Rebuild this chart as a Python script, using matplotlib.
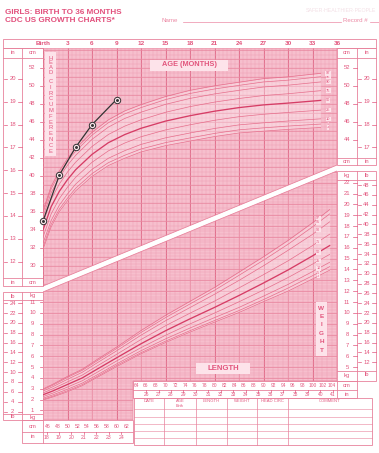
import matplotlib
matplotlib.use('Agg')
import matplotlib.pyplot as plt
import matplotlib.transforms as mtransforms
from matplotlib.patches import Polygon, Rectangle
import numpy as np

plt.rcParams['font.family'] = ['Liberation Sans', 'DejaVu Sans']

# ---------------- data ----------------
age_ticks = [0, 3, 6, 9, 12, 15, 18, 21, 24, 27, 30, 33, 36]
age_tick_labels = ['Birth', '3', '6', '9', '12', '15', '18', '21', '24', '27', '30', '33', '36']
percentiles = ['3', '5', '10', '25', '50', '75', '90', '95', '97']

hc_age = [0, 1, 2, 3, 4, 6, 8, 10, 12, 15, 18, 21, 24, 27, 30, 34]
hc_p3 = [31.84, 34.34, 36.04, 37.25, 38.35, 39.95, 41.16, 41.97, 42.67, 43.37, 43.88, 44.38, 44.78, 44.98, 45.18, 45.39]
hc_p5 = [32.11, 34.63, 36.33, 37.54, 38.64, 40.26, 41.48, 42.30, 43.00, 43.71, 44.23, 44.73, 45.13, 45.35, 45.55, 45.77]
hc_p10 = [32.53, 35.06, 36.76, 38.00, 39.10, 40.73, 41.97, 42.81, 43.51, 44.24, 44.78, 45.28, 45.68, 45.91, 46.11, 46.35]
hc_p25 = [33.22, 35.79, 37.49, 38.76, 39.86, 41.52, 42.79, 43.66, 44.36, 45.12, 45.69, 46.19, 46.59, 46.86, 47.06, 47.32]
hc_p50 = [34.00, 36.60, 38.30, 39.60, 40.70, 42.40, 43.70, 44.60, 45.30, 46.10, 46.70, 47.20, 47.60, 47.90, 48.10, 48.40]
hc_p75 = [34.78, 37.41, 39.11, 40.44, 41.54, 43.28, 44.61, 45.54, 46.24, 47.08, 47.71, 48.21, 48.61, 48.94, 49.14, 49.48]
hc_p90 = [35.47, 38.14, 39.84, 41.20, 42.30, 44.07, 45.43, 46.39, 47.09, 47.96, 48.62, 49.12, 49.52, 49.89, 50.09, 50.45]
hc_p95 = [35.89, 38.57, 40.27, 41.66, 42.76, 44.54, 45.92, 46.90, 47.60, 48.49, 49.17, 49.67, 50.07, 50.45, 50.65, 51.03]
hc_p97 = [36.16, 38.86, 40.56, 41.95, 43.05, 44.85, 46.24, 47.23, 47.93, 48.83, 49.52, 50.02, 50.42, 50.82, 51.02, 51.41]
hc_curves = [hc_p3, hc_p5, hc_p10, hc_p25, hc_p50, hc_p75, hc_p90, hc_p95, hc_p97]

patient_age = [0, 2, 4, 6, 9]
patient_hc = [35.0, 40.1, 43.2, 45.7, 48.5]

wl_len = [45, 47, 50, 53, 56, 60, 65, 70, 75, 80, 85, 90, 95, 100, 103.5]
wl_p3 = [1.96, 2.24, 2.72, 3.28, 4.03, 5.03, 6.22, 7.26, 8.22, 9.14, 10.03, 11.03, 12.00, 13.12, 13.93]
wl_p5 = [2.03, 2.32, 2.82, 3.38, 4.13, 5.15, 6.33, 7.39, 8.36, 9.29, 10.21, 11.22, 12.28, 13.42, 14.26]
wl_p10 = [2.13, 2.44, 2.96, 3.52, 4.27, 5.29, 6.51, 7.60, 8.60, 9.56, 10.50, 11.54, 12.62, 13.80, 14.66]
wl_p25 = [2.28, 2.60, 3.16, 3.74, 4.51, 5.56, 6.79, 7.93, 8.98, 9.98, 11.02, 12.11, 13.25, 14.49, 15.39]
wl_p50 = [2.45, 2.80, 3.40, 4.00, 4.80, 5.85, 7.15, 8.35, 9.45, 10.50, 11.60, 12.75, 13.95, 15.25, 16.20]
wl_p75 = [2.62, 3.00, 3.64, 4.26, 5.09, 6.17, 7.54, 8.81, 9.97, 11.08, 12.30, 13.52, 14.79, 16.20, 17.25]
wl_p90 = [2.79, 3.19, 3.88, 4.52, 5.38, 6.49, 7.94, 9.27, 10.49, 11.71, 12.99, 14.34, 15.76, 17.23, 18.39]
wl_p95 = [2.92, 3.33, 4.05, 4.70, 5.57, 6.70, 8.19, 9.56, 10.82, 12.08, 13.46, 14.85, 16.32, 17.92, 19.12]
wl_p97 = [2.99, 3.42, 4.15, 4.80, 5.69, 6.84, 8.37, 9.77, 11.06, 12.34, 13.75, 15.17, 16.67, 18.30, 19.52]
wl_curves = [wl_p3, wl_p5, wl_p10, wl_p25, wl_p50, wl_p75, wl_p90, wl_p95, wl_p97]

hc_cm_left = list(range(30, 53, 2))
hc_in_left = list(range(12, 21))
hc_cm_right = list(range(44, 53, 2))
hc_in_right = list(range(17, 21))
wt_kg_left = list(range(1, 12))
wt_lb_left = list(range(2, 25, 2))
wt_kg_right = list(range(5, 23))
wt_lb_right = list(range(12, 49, 2))
len_cm_low = list(range(46, 63, 2))
len_in_low = list(range(18, 25))
len_cm_high = list(range(64, 105, 2))
len_in_high = list(range(26, 42))
table_headers = ['DATE', 'AGE', 'LENGTH', 'WEIGHT', 'HEAD CIRC', 'COMMENT']

# ---------------- style ----------------
PINK = '#f6bfcd'
MINOR = '#ee9db2'
MED = '#e8849d'
MAJOR = '#df6886'
TXT = '#e2557d'
FRAME = '#e8829c'
CURVE = '#e66d8b'
CURVE50 = '#d63d66'
LIGHTBOX = '#fde3ea'
FS = 4.2

W, H = 379, 453
fig = plt.figure(figsize=(W / 100, H / 100), dpi=100)
fig.patch.set_facecolor('white')
page = fig.add_axes([0, 0, 1, 1], zorder=0)
page.set_xlim(0, W)
page.set_ylim(H, 0)
page.axis('off')

GX0, GX1, GY0, GY1 = 43, 337, 48, 420
pos = [GX0 / W, 1 - GY1 / H, (GX1 - GX0) / W, (GY1 - GY0) / H]


def cm_at(py):
    return 52 - (py - 68) / 9.0


def kg_at(py):
    return 1 + (410.5 - py) / 10.85


def frac(px, py):
    return ((px - GX0) / (GX1 - GX0), (GY1 - py) / (GY1 - GY0))


ax_hc = fig.add_axes(pos, zorder=1)
ax_hc.set_xlim(0, 36)
ax_hc.set_ylim(cm_at(GY1), cm_at(GY0))
ax_wt = fig.add_axes(pos, zorder=2)
ax_wt.set_xlim(45, 105)
ax_wt.set_ylim(kg_at(GY1), kg_at(GY0))
for a in (ax_hc, ax_wt):
    a.axis('off')

top = fig.add_axes([0, 0, 1, 1], zorder=5)
top.set_xlim(0, W)
top.set_ylim(H, 0)
top.axis('off')

# ---------- grid regions ----------
up = Polygon([frac(43, 48), frac(337, 48), frac(337, 165), frac(43, 286)], closed=True,
             transform=ax_hc.transAxes, fc=PINK, ec=FRAME, lw=0.6, zorder=0)
ax_hc.add_patch(up)
lo = Polygon([frac(43, 292), frac(337, 171), frac(337, 381), frac(133, 381), frac(133, 420), frac(43, 420)],
             closed=True, transform=ax_wt.transAxes, fc=PINK, ec=FRAME, lw=0.6, zorder=0)
ax_wt.add_patch(lo)

y0, y1 = ax_hc.get_ylim()
for xs, c, lw in [(np.arange(0, 36.01, 0.5), MINOR, 0.3), (np.arange(0, 36.01, 3), MAJOR, 0.6)]:
    ax_hc.vlines(xs, y0, y1, colors=c, lw=lw, zorder=1).set_clip_path(up)
for ys, c, lw in [(np.arange(13, 55, 0.5), MINOR, 0.3), (np.arange(13, 55, 1), MED, 0.45)]:
    ax_hc.hlines(ys, 0, 36, colors=c, lw=lw, zorder=1).set_clip_path(up)

ky0, ky1 = ax_wt.get_ylim()
for xs, c, lw in [(np.arange(45, 105.1, 1), MINOR, 0.3), (np.arange(45, 105.1, 5), MED, 0.45),
                  (np.arange(50, 105.1, 10), MAJOR, 0.6)]:
    ax_wt.vlines(xs, ky0, ky1, colors=c, lw=lw, zorder=1).set_clip_path(lo)
for ys, c, lw in [(np.arange(0, 35, 0.25), MINOR, 0.3), (np.arange(0, 35, 1), MED, 0.5)]:
    ax_wt.hlines(ys, 45, 105, colors=c, lw=lw, zorder=1).set_clip_path(lo)

# ---------- percentile curves ----------
ax_hc.fill_between(hc_age, hc_p3, hc_p97, color='white', alpha=0.3, lw=0, zorder=2)
for name, cur in zip(percentiles, hc_curves):
    ax_hc.plot(hc_age, cur, color=CURVE50 if name == '50' else CURVE,
               lw=0.95 if name == '50' else 0.5, zorder=3)
    ax_hc.text(34.9, cur[-1], name, fontsize=2.9, color=TXT, ha='center', va='center', zorder=4,
               bbox=dict(boxstyle='square,pad=0.08', fc=LIGHTBOX, ec='none'))

ax_wt.fill_between(wl_len, wl_p3, wl_p97, color='white', alpha=0.3, lw=0, zorder=2)
for name, cur in zip(percentiles, wl_curves):
    ax_wt.plot(wl_len, cur, color=CURVE50 if name == '50' else CURVE,
               lw=0.95 if name == '50' else 0.5, zorder=3)
    ax_wt.text(101.2, np.interp(101.2, wl_len, cur), name, fontsize=2.7, color=TXT, ha='center',
               va='center', zorder=4, bbox=dict(boxstyle='square,pad=0.06', fc=LIGHTBOX, ec='none'))

# patient measurements
ax_hc.plot(patient_age, patient_hc, color='#333333', lw=0.9, marker='o', ms=4.6,
           mfc='#fbe6ec', mec='#333333', mew=0.7, zorder=6, clip_on=False)
ax_hc.plot(patient_age, patient_hc, ls='none', marker='o', ms=1.1, color='#333333', zorder=7, clip_on=False)

# ---------- frames ----------
def hl(y, xa, xb, lw=0.6):
    page.plot([xa, xb], [y, y], color=FRAME, lw=lw)


def vl(x, ya, yb, lw=0.6):
    page.plot([x, x], [ya, yb], color=FRAME, lw=lw)


def box(xa, ya, xb, yb, lw=0.6):
    page.add_patch(Rectangle((xa, ya), xb - xa, yb - ya, fill=False, ec=FRAME, lw=lw))


box(3, 39, 376, 48)
box(3, 48, 43, 286); vl(22, 48, 286); hl(57.5, 3, 43); hl(277.5, 3, 43)
box(3, 292, 43, 420); vl(22, 292, 420); hl(300, 3, 43); hl(413.5, 3, 43)
box(337, 48, 376, 165); vl(357, 48, 165); hl(57.5, 337, 376); hl(157.5, 337, 376)
box(337, 171, 376, 381); vl(357, 171, 381); hl(179.5, 337, 376); hl(370.5, 337, 376)
box(22, 420, 133, 443); hl(431.5, 22, 133); vl(43, 420, 443)
box(133, 381, 357, 398); hl(390, 133, 357); vl(337, 381, 398)
box(134, 398, 372, 445)
for x in [164, 196, 227, 257, 288]:
    vl(x, 398, 445, lw=0.5)
for y in [409, 416.5, 423.5, 430.5, 437.5]:
    hl(y, 134, 372, lw=0.4)
for x, t in zip([149, 180, 211.5, 242, 272.5, 330], table_headers):
    page.text(x, 401.5, t, fontsize=3.0, color=TXT, ha='center', va='center')
page.text(180, 406, 'Birth', fontsize=2.8, color=TXT, ha='center', va='center')

# ---------- header / footer labels ----------
def lab(x, y, s, fs=FS, **kw):
    page.text(x, y, s, fontsize=fs, color=TXT, ha='center', va='center', **kw)


for (x, s) in [(12.5, 'in'), (32.5, 'cm')]:
    lab(x, 53, s); lab(x, 282, s)
for (x, s) in [(12.5, 'lb'), (32.5, 'kg')]:
    lab(x, 296, s); lab(x, 417, s)
for (x, s) in [(347, 'cm'), (366.5, 'in')]:
    lab(x, 53, s); lab(x, 161.5, s)
for (x, s) in [(347, 'kg'), (366.5, 'lb')]:
    lab(x, 175.5, s); lab(x, 375, s)
lab(32.5, 426, 'cm'); lab(32.5, 437, 'in')
lab(347, 385.5, 'cm'); lab(347, 394.2, 'in')

# ---------- axis tick labels ----------
bt_cm = mtransforms.blended_transform_factory(page.transData, ax_hc.transData)
bt_in = mtransforms.blended_transform_factory(
    page.transData, mtransforms.Affine2D().scale(1, 2.54) + ax_hc.transData)
bt_kg = mtransforms.blended_transform_factory(page.transData, ax_wt.transData)
bt_lb = mtransforms.blended_transform_factory(
    page.transData, mtransforms.Affine2D().scale(1, 0.45359) + ax_wt.transData)
bt_age = mtransforms.blended_transform_factory(ax_hc.transData, page.transData)
bt_len = mtransforms.blended_transform_factory(ax_wt.transData, page.transData)
bt_lin = mtransforms.blended_transform_factory(
    mtransforms.Affine2D().scale(2.54, 1) + ax_wt.transData, page.transData)


def column(values, trans, xc, ticks):
    for v in values:
        page.text(xc, v, str(v), transform=trans, fontsize=FS, color=TXT, ha='center', va='center')
        for xa, xb in ticks:
            page.plot([xa, xb], [v, v], transform=trans, color=TXT, lw=0.5)


column(hc_cm_left, bt_cm, 32.5, [(39.5, 43)])
column(hc_in_left, bt_in, 12.5, [(4, 7), (18, 21.5)])
column(hc_cm_right, bt_cm, 347, [(353, 357)])
column(hc_in_right, bt_in, 366.5, [(358, 361), (372, 375.5)])
column(wt_kg_left, bt_kg, 32.5, [(39.5, 43)])
column(wt_lb_left, bt_lb, 12.5, [(4, 7), (18, 21.5)])
column(wt_kg_right, bt_kg, 347, [(353, 357)])
column(wt_lb_right, bt_lb, 366.5, [(358, 361), (372, 375.5)])

for a, t in zip(age_ticks, age_tick_labels):
    page.text(a, 43.5, t, transform=bt_age, fontsize=4.6, color=TXT, ha='center', va='center',
              fontweight='bold')
for v in len_cm_low:
    page.text(v, 426, str(v), transform=bt_len, fontsize=3.7, color=TXT, ha='center', va='center')
for v in len_in_low:
    page.text(v, 437.5, str(v), transform=bt_lin, fontsize=3.7, color=TXT, ha='center', va='center')
    page.plot([v, v], [431.5, 433.5], transform=bt_lin, color=TXT, lw=0.5)
for v in len_cm_high:
    page.text(v, 385.6, str(v), transform=bt_len, fontsize=3.5, color=TXT, ha='center', va='center')
for v in len_in_high:
    page.text(v, 394.5, str(v), transform=bt_lin, fontsize=3.5, color=TXT, ha='center', va='center')
    page.plot([v, v], [390, 391.8], transform=bt_lin, color=TXT, lw=0.5)

# ---------- titles ----------
page.text(5, 12, 'GIRLS: BIRTH TO 36 MONTHS', fontsize=5.9, fontweight='bold', color='#e2507c',
          ha='left', va='center')
page.text(5, 20, 'CDC US GROWTH CHARTS*', fontsize=5.9, fontweight='bold', color='#e2507c',
          ha='left', va='center')
page.text(162, 20.5, 'Name', fontsize=4.4, color='#ec8aa5', ha='left', va='center')
page.plot([183, 341], [22, 22], color='#ec8aa5', lw=0.5)
page.text(343, 20.5, 'Record #', fontsize=4.4, color='#ec8aa5', ha='left', va='center')
page.plot([370, 379], [22, 22], color='#ec8aa5', lw=0.5)
page.text(306, 11, 'SAFER\u00b7HEALTHIER\u00b7PEOPLE', fontsize=3.8, color='#f3e0e6', ha='left', va='center')

# ---------- in-grid label boxes ----------
top.add_patch(Rectangle((45, 52), 11, 104, fc=LIGHTBOX, ec='none'))
for i, ch in enumerate('HEAD'):
    top.text(50.5, 58 + i * 4.7, ch, fontsize=4.2, color=TXT, ha='center', va='center')
for i, ch in enumerate('CIRCUMFERENCE'):
    top.text(50.5, 81.5 + i * 5.8, ch, fontsize=4.2, color=TXT, ha='center', va='center')

top.add_patch(Rectangle((150, 59.5), 78, 11, fc=LIGHTBOX, ec='none'))
top.text(189, 65, 'AGE (MONTHS)', fontsize=5.3, fontweight='bold', color=TXT, ha='center', va='center')

top.add_patch(Rectangle((196, 362.5), 54, 11.5, fc=LIGHTBOX, ec='none'))
top.text(223, 368.3, 'LENGTH', fontsize=5.6, fontweight='bold', color=TXT, ha='center', va='center')

top.add_patch(Rectangle((316, 302), 11, 54, fc=LIGHTBOX, ec='none'))
for i, ch in enumerate('WEIGHT'):
    top.text(321.5, 308 + i * 8.4, ch, fontsize=4.6, fontweight='bold', color=TXT, ha='center', va='center')

fig.savefig('out.png', dpi=100, facecolor='white')
